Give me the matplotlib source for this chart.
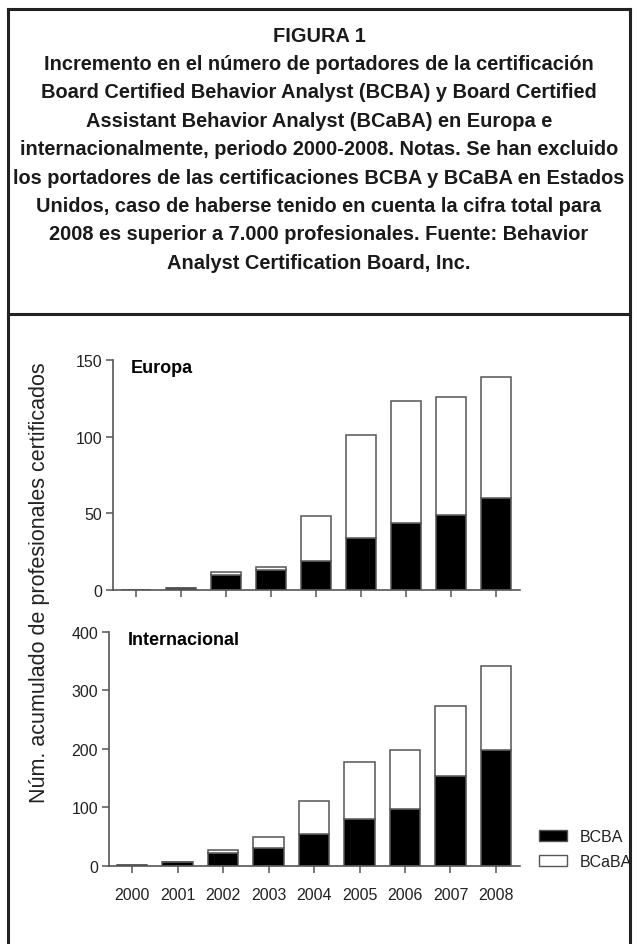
import numpy as np
import matplotlib
matplotlib.use("Agg")
import matplotlib.pyplot as plt
from matplotlib.patches import Patch
from matplotlib.lines import Line2D

years = ["2000", "2001", "2002", "2003", "2004", "2005", "2006", "2007", "2008"]

# Europa (acumulado)
eu_bcba = [0, 1, 10, 13, 19, 34, 44, 49, 60]
eu_bcaba = [0, 0, 2, 2, 29, 67, 79, 77, 79]

# Internacional (acumulado)
int_bcba = [2, 7, 22, 30, 54, 81, 98, 154, 198]
int_bcaba = [0, 0, 6, 19, 57, 96, 100, 120, 144]

title_lines = [
    "FIGURA 1",
    "Incremento en el número de portadores de la certificación",
    "Board Certified Behavior Analyst (BCBA) y Board Certified",
    "Assistant Behavior Analyst (BCaBA) en Europa e",
    "internacionalmente, periodo 2000-2008. Notas. Se han excluido",
    "los portadores de las certificaciones BCBA y BCaBA en Estados",
    "Unidos, caso de haberse tenido en cuenta la cifra total para",
    "2008 es superior a 7.000 profesionales. Fuente: Behavior",
    "Analyst Certification Board, Inc.",
]

W, H = 637, 945
plt.rcParams['font.family'] = ['Liberation Sans', 'DejaVu Sans']
fig = plt.figure(figsize=(W / 100, H / 100), dpi=100)

# marco
frame_kw = dict(color="#222222", lw=2.2, transform=fig.transFigure)
fig.add_artist(Line2D([8 / W, 630 / W], [1 - 10 / H, 1 - 10 / H], **frame_kw))
fig.add_artist(Line2D([8 / W, 8 / W], [0, 1 - 10 / H], **frame_kw))
fig.add_artist(Line2D([630 / W, 630 / W], [0, 1 - 10 / H], **frame_kw))
fig.add_artist(Line2D([8 / W, 630 / W], [1 - 315 / H, 1 - 315 / H], **frame_kw))

# titulo: ajustar tamaño para que la línea más larga ocupe ~610 px
title_texts = []
y0 = 36
for i, line in enumerate(title_lines):
    t = fig.text(319 / W, 1 - (y0 + i * 28.4) / H, line, ha="center", va="center",
                 fontsize=13, fontweight="bold", color="#1a1a1a")
    title_texts.append(t)
renderer = fig.canvas.get_renderer()
widest = max(t.get_window_extent(renderer).width for t in title_texts)
fs = 13 * 610 / widest
for t in title_texts:
    t.set_fontsize(fs)

x = np.arange(len(years))
edge = "#555555"
bw = 0.67


def style(ax):
    for s in ["top", "right"]:
        ax.spines[s].set_visible(False)
    for s in ["left", "bottom"]:
        ax.spines[s].set_color(edge)
        ax.spines[s].set_linewidth(1.2)
    ax.tick_params(direction="out", length=5, width=1.1, color=edge,
                   labelsize=11.5, labelcolor="#222222", pad=3)
    ax.set_xlim(-0.51, 8.53)
    ax.set_xticks(x)


ax1 = fig.add_axes([113 / W, 1 - 591 / H, 407 / W, 230 / H])
ax1.bar(x, eu_bcba, bw, color="black", edgecolor=edge, lw=1.1)
ax1.bar(x, eu_bcaba, bw, bottom=eu_bcba, color="white", edgecolor=edge, lw=1.1)
style(ax1)
ax1.set_ylim(0, 150)
ax1.set_yticks([0, 50, 100, 150])
ax1.set_xticklabels([])
ax1.text(-0.12, 145, "Europa", fontsize=13, fontweight="bold", va="center")

ax2 = fig.add_axes([109 / W, 1 - 867 / H, 411 / W, 234.3 / H])
ax2.bar(x, int_bcba, bw, color="black", edgecolor=edge, lw=1.1)
ax2.bar(x, int_bcaba, bw, bottom=int_bcba, color="white", edgecolor=edge, lw=1.1)
style(ax2)
ax2.set_ylim(0, 400)
ax2.set_yticks([0, 100, 200, 300, 400])
ax2.set_xticklabels(years)
ax2.tick_params(axis="x", pad=10)
ax2.text(-0.1, 386, "Internacional", fontsize=13, fontweight="bold", va="center")

handles = [Patch(facecolor="black", edgecolor=edge, label="BCBA"),
           Patch(facecolor="white", edgecolor=edge, label="BCaBA")]
fig.legend(handles=handles, loc="center left",
           bbox_to_anchor=(525 / W, 1 - 850 / H), frameon=False, fontsize=11.5,
           handlelength=1.75, handleheight=0.7, handletextpad=0.8,
           labelspacing=0.6, labelcolor="#222222")

fig.text(40 / W, 1 - 583 / H, "Núm. acumulado de profesionales certificados",
         rotation=90, ha="center", va="center", fontsize=15.5, color="#222222")

fig.savefig("out.png", dpi=100)
